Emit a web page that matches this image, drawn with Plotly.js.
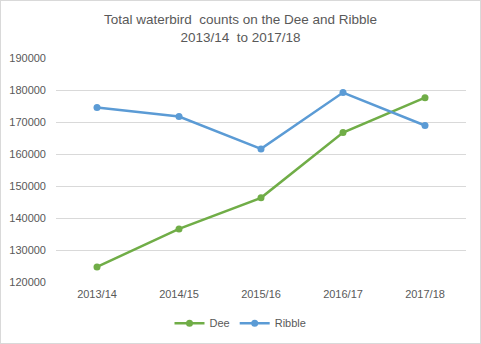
<!DOCTYPE html>
<html>
<head>
<meta charset="utf-8">
<script src="https://cdn.plot.ly/plotly-3.0.1.min.js"></script>
<style>
html,body{margin:0;padding:0;background:#fff;}
#chart{width:479px;height:342px;border:1px solid #d9d9d9;}
</style>
</head>
<body>
<div id="chart"></div>
<script>
const seasons = ["2013/14", "2014/15", "2015/16", "2016/17", "2017/18"];
const dee = [124700, 136600, 146300, 166700, 177600];
const ribble = [174500, 171700, 161600, 179200, 168900];
const yTicks = [120000, 130000, 140000, 150000, 160000, 170000, 180000, 190000];

const font = "'Liberation Sans', Arial, sans-serif";
const traces = [
  {x: seasons, y: dee, name: "Dee", type: "scatter", mode: "lines+markers",
   line: {color: "#70AD47", width: 2.5}, marker: {color: "#70AD47", size: 7}},
  {x: seasons, y: ribble, name: "Ribble", type: "scatter", mode: "lines+markers",
   line: {color: "#5B9BD5", width: 2.5}, marker: {color: "#5B9BD5", size: 7}}
];
const layout = {
  width: 479, height: 342,
  margin: {l: 55, r: 14, t: 57, b: 61, autoexpand: false},
  paper_bgcolor: "#fff", plot_bgcolor: "#fff",
  font: {family: font, size: 11, color: "#595959"},
  title: {text: "Total waterbird  counts on the Dee and Ribble<br>2013/14  to 2017/18",
          font: {family: font, size: 13.5, color: "#595959"}, x: 0.5, xanchor: "center",
          yref: "container", y: 0.932, yanchor: "top"},
  xaxis: {type: "category", range: [-0.5, 4.5], showgrid: false, zeroline: false, showline: false, ticks: "",
          tickfont: {size: 11, color: "#595959"}, ticklabelstandoff: 4},
  yaxis: {range: [120000, 190000], tickvals: yTicks, ticktext: yTicks.map(String),
          showgrid: true, gridcolor: "#d9d9d9", gridwidth: 1, zeroline: false, showline: false,
          ticks: "", tickfont: {size: 11, color: "#595959"}, ticklabelstandoff: 9},
  showlegend: true,
  legend: {orientation: "h", x: 0.5, xref: "container", xanchor: "center",
           yref: "container", y: 0.058, yanchor: "middle",
           font: {size: 11, color: "#595959"}, itemwidth: 30, tracegroupgap: 0}
};
Plotly.newPlot("chart", traces, layout, {staticPlot: true, displayModeBar: false});
</script>
</body>
</html>
